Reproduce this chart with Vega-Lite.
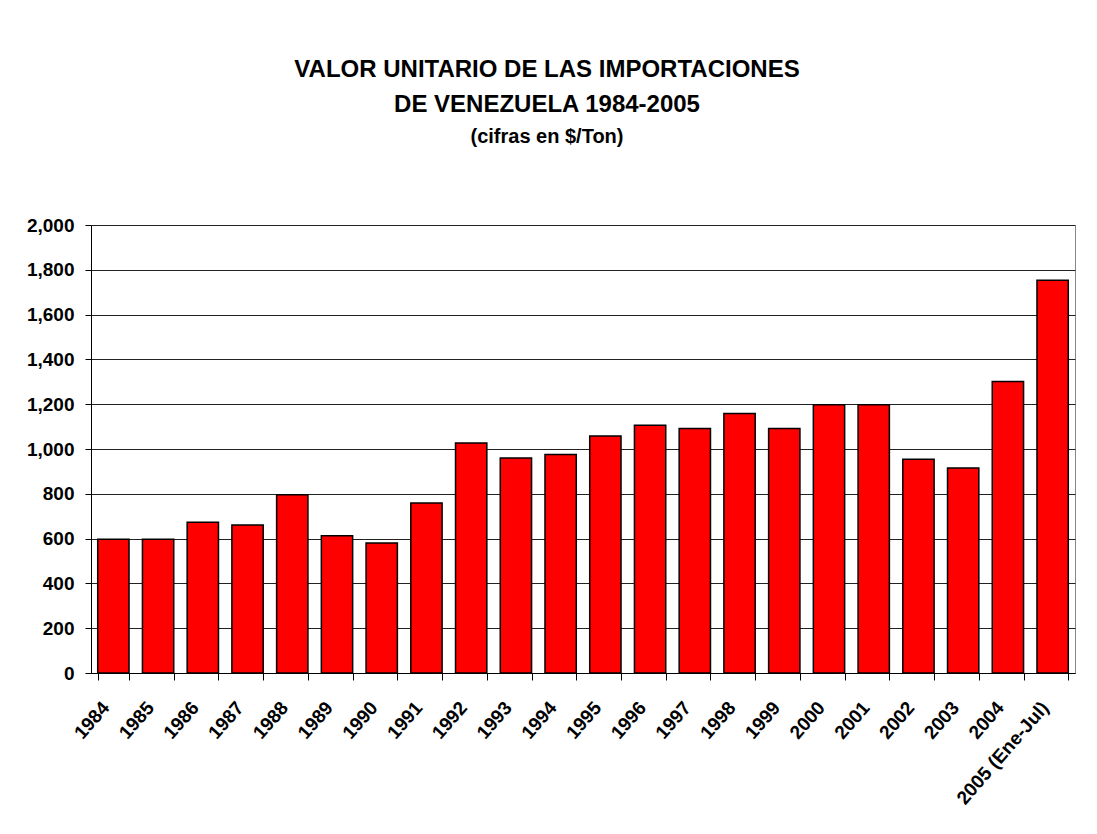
{
  "$schema": "https://vega.github.io/schema/vega-lite/v6.json",
  "autosize": {"type": "none"},
  "width": 984,
  "height": 448,
  "padding": {"left": 91, "top": 225, "right": 22, "bottom": 161},
  "background": "white",
  "title": {
    "text": ["VALOR UNITARIO DE LAS IMPORTACIONES", "DE VENEZUELA 1984-2005"],
    "subtitle": "(cifras en $/Ton)",
    "anchor": "middle",
    "dx": -36,
    "offset": 69,
    "font": "Liberation Sans",
    "fontSize": 24,
    "fontWeight": "bold",
    "lineHeight": 35,
    "color": "black",
    "subtitleFont": "Liberation Sans",
    "subtitleFontSize": 20,
    "subtitleFontWeight": "bold",
    "subtitleColor": "black",
    "subtitlePadding": 10
  },
  "data": {
    "values": [
      {"year": "1984", "value": 597},
      {"year": "1985", "value": 597},
      {"year": "1986", "value": 673},
      {"year": "1987", "value": 661},
      {"year": "1988", "value": 796},
      {"year": "1989", "value": 613},
      {"year": "1990", "value": 580},
      {"year": "1991", "value": 759},
      {"year": "1992", "value": 1027},
      {"year": "1993", "value": 960},
      {"year": "1994", "value": 975},
      {"year": "1995", "value": 1058},
      {"year": "1996", "value": 1106},
      {"year": "1997", "value": 1091},
      {"year": "1998", "value": 1158},
      {"year": "1999", "value": 1091},
      {"year": "2000", "value": 1197},
      {"year": "2001", "value": 1197},
      {"year": "2002", "value": 954},
      {"year": "2003", "value": 915},
      {"year": "2004", "value": 1301},
      {"year": "2005 (Ene-Jul)", "value": 1753}
    ]
  },
  "mark": {"type": "bar", "fill": "#FF0000", "stroke": "black", "strokeWidth": 1.5},
  "encoding": {
    "x": {
      "field": "year",
      "type": "nominal",
      "sort": null,
      "title": null,
      "scale": {"paddingInner": 0.3, "paddingOuter": 0.15},
      "axis": {
        "tickBand": "extent",
        "labelAngle": -49,
        "labelAlign": "right",
        "labelBaseline": "middle",
        "labelFont": "Liberation Sans",
        "labelFontSize": 19,
        "labelFontWeight": "bold",
        "labelColor": "black",
        "labelPadding": 24,
        "labelOffset": -8,
        "tickSize": 7,
        "tickColor": "black",
        "domainColor": "black",
        "grid": false
      }
    },
    "y": {
      "field": "value",
      "type": "quantitative",
      "title": null,
      "scale": {"domain": [0, 2000], "nice": false},
      "axis": {
        "values": [0, 200, 400, 600, 800, 1000, 1200, 1400, 1600, 1800, 2000],
        "format": ",d",
        "labelFont": "Liberation Sans",
        "labelFontSize": 19,
        "labelFontWeight": "bold",
        "labelColor": "black",
        "labelPadding": 11,
        "tickSize": 6,
        "tickColor": "black",
        "domainColor": "black",
        "grid": true,
        "gridColor": "#222222",
        "gridOpacity": 1,
        "gridWidth": 1
      }
    }
  },
  "config": {
    "view": {"stroke": "#888888", "strokeWidth": 1},
    "axis": {"domainWidth": 1, "tickWidth": 1}
  }
}
